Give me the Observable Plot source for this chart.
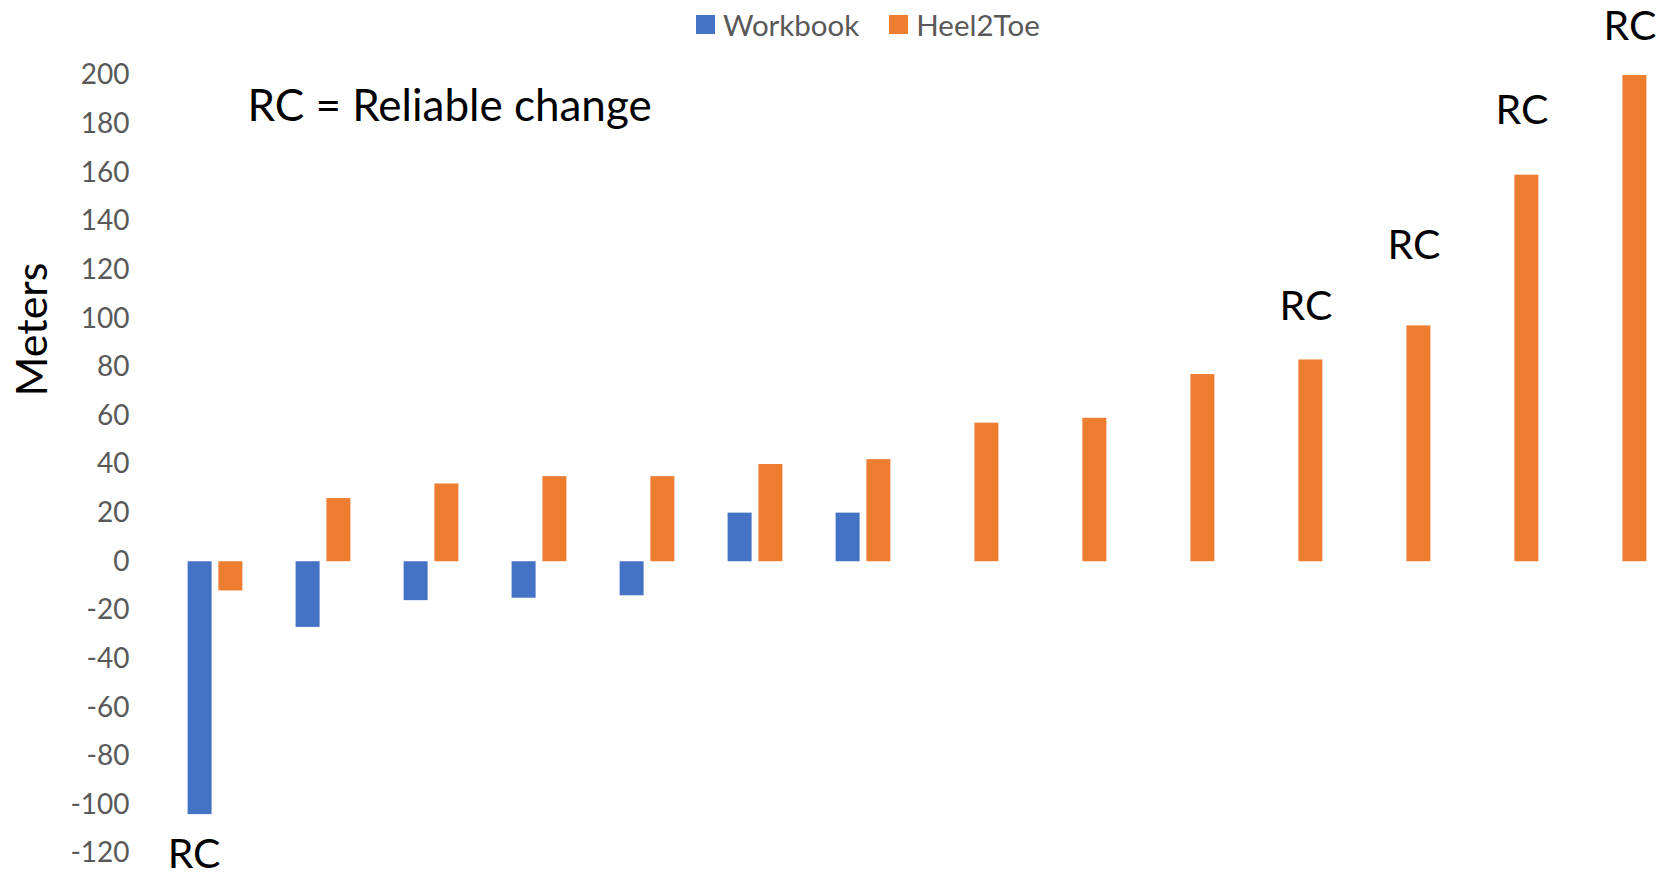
<!DOCTYPE html>
<html>
<head>
<meta charset="utf-8">
<script src="https://cdn.jsdelivr.net/npm/d3@7"></script>
<script src="https://cdn.jsdelivr.net/npm/@observablehq/plot@0.6"></script>
<style>
  html, body { margin: 0; padding: 0; background: #fff; overflow: hidden; }
  #wrap { position: relative; width: 1662px; height: 874px; }
  #legend { position: absolute; left: 696px; top: 7px; display: flex; align-items: center;
            font-family: Lato, sans-serif; font-size: 29.5px; color: #595959; }
  #legend .sw { display: inline-block; width: 19px; height: 19px; margin-right: 8px; }
  #legend .item { display: flex; align-items: center; margin-right: 30px; }
</style>
</head>
<body>
<div id="wrap"><div id="legend"></div></div>
<script>
// ---- data ----
const categories = ["P1","P2","P3","P4","P5","P6","P7","P8","P9","P10","P11","P12","P13","P14"];
const workbook = [-104, -27, -16, -15, -14, 20, 20, null, null, null, null, null, null, null];
const heel2toe = [-12, 26, 32, 35, 35, 40, 42, 57, 59, 77, 83, 97, 159, 200];
const seriesNames = ["Workbook", "Heel2Toe"];
const seriesColors = ["#4472C4", "#ED7D31"];
const yTicks = [-120, -100, -80, -60, -40, -20, 0, 20, 40, 60, 80, 100, 120, 140, 160, 180, 200];
// "RC" (reliable change) annotations: category, series, label height in meters
const rcCategories = ["P1", "P11", "P12", "P13", "P14"];
const rcSeries = ["Workbook", "Heel2Toe", "Heel2Toe", "Heel2Toe", "Heel2Toe"];
const rcLabelY = [-120.5, 105, 130, 185.5, 220];
const annotation = "RC = Reliable change";
const yLabel = "Meters";

// ---- tables built from the arrays ----
const wbRows = categories.map((c, i) => ({cat: c, value: workbook[i]})).filter(d => d.value != null);
const htRows = categories.map((c, i) => ({cat: c, value: heel2toe[i]})).filter(d => d.value != null);
const rcRows = rcCategories.map((c, i) => ({cat: c, series: rcSeries[i], y: rcLabelY[i]}));

const font = "Lato, 'Open Sans', sans-serif";
const offset = 15.4;

const chart = Plot.plot({
  width: 1662,
  height: 874,
  marginLeft: 159,
  marginRight: 0,
  marginTop: 75,
  marginBottom: 21,
  style: {fontFamily: font, background: "#fff", overflow: "visible"},
  x: {type: "band", domain: categories, range: [156.5, 1677.5], paddingInner: 0.775, paddingOuter: 0.3875, align: 0.5, axis: null},
  y: {domain: [-120, 200], ticks: yTicks, label: null},
  marks: [
    Plot.gridY(yTicks, {stroke: "#d9d9d9", strokeOpacity: 1, strokeWidth: 2, x1: 159, x2: 1662}),
    Plot.axisY(yTicks, {tickSize: 0, tickPadding: 30, fontSize: 28, fill: "#595959", label: null, tickFormat: d => String(d)}),
    Plot.barY(wbRows, {x: "cat", y: "value", fill: seriesColors[0], dx: -offset}),
    Plot.barY(htRows, {x: "cat", y: "value", fill: seriesColors[1], dx: offset}),
    Plot.text(rcRows.filter(d => d.series === "Workbook"), {x: "cat", y: "y", text: () => "RC", dx: -offset - 6, fontSize: 41, fill: "#000",
      textAnchor: "middle", lineAnchor: "middle"}),
    Plot.text(rcRows.filter(d => d.series === "Heel2Toe"), {x: "cat", y: "y", text: () => "RC", dx: offset - 5, fontSize: 41, fill: "#000",
      textAnchor: "middle", lineAnchor: "middle"}),
    Plot.text([annotation], {frameAnchor: "top-left", dx: 88, dy: 14, fontSize: 44, fill: "#000", lineAnchor: "top"}),
    Plot.text([yLabel], {frameAnchor: "left", dx: -126, dy: -135, rotate: -90, fontSize: 43, fill: "#000", textAnchor: "middle", lineAnchor: "middle"})
  ]
});
document.getElementById("wrap").prepend(chart);

// legend (HTML, positioned over the chart)
const legend = document.getElementById("legend");
seriesNames.forEach((name, i) => {
  const item = document.createElement("span");
  item.className = "item";
  const sw = document.createElement("span");
  sw.className = "sw";
  sw.style.background = seriesColors[i];
  item.appendChild(sw);
  item.appendChild(document.createTextNode(name));
  legend.appendChild(item);
});
</script>
</body>
</html>
